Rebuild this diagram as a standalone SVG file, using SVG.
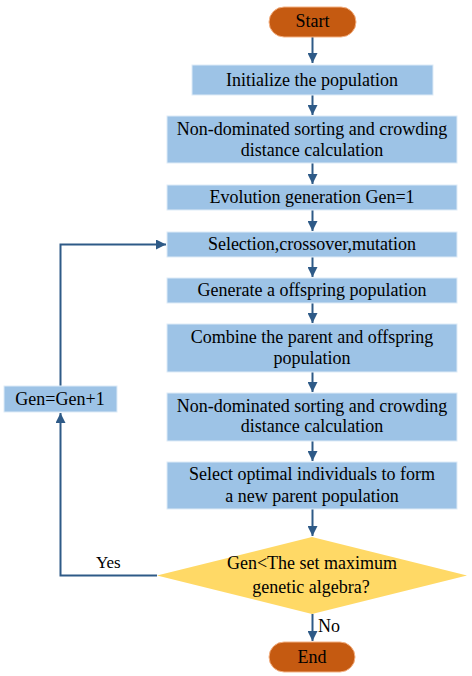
<svg xmlns="http://www.w3.org/2000/svg" width="472" height="676" viewBox="0 0 472 676">
<style>
.box{fill:#9DC3E6;stroke:#DEEBF7;stroke-width:1}
.term{fill:#C55A11;stroke:#F4B183;stroke-width:1}
.dia{fill:#FFD966}
.t{font-family:'Liberation Serif',serif;font-size:18px;fill:#000;text-anchor:middle}
.lbl{text-anchor:start}
.c{fill:none;stroke:#2E5A87;stroke-width:2}
</style>
<defs>
<marker id="ah" viewBox="0 0 10 10" refX="10" refY="5" markerWidth="5" markerHeight="5" orient="auto" markerUnits="strokeWidth">
<path d="M0,0 L10,5 L0,10 z" fill="#2E5A87"/>
</marker>
</defs>
<rect width="472" height="676" fill="#fff"/>
<g id="connectors">
<line class="c" x1="312.5" y1="37" x2="312.5" y2="63" marker-end="url(#ah)"/>
<line class="c" x1="312.5" y1="95" x2="312.5" y2="115" marker-end="url(#ah)"/>
<line class="c" x1="312.5" y1="163" x2="312.5" y2="184" marker-end="url(#ah)"/>
<line class="c" x1="312.5" y1="210" x2="312.5" y2="231" marker-end="url(#ah)"/>
<line class="c" x1="312.5" y1="257" x2="312.5" y2="277" marker-end="url(#ah)"/>
<line class="c" x1="312.5" y1="303" x2="312.5" y2="323" marker-end="url(#ah)"/>
<line class="c" x1="312.5" y1="372" x2="312.5" y2="392" marker-end="url(#ah)"/>
<line class="c" x1="312.5" y1="441" x2="312.5" y2="461" marker-end="url(#ah)"/>
<line class="c" x1="312.5" y1="509" x2="312.5" y2="536" marker-end="url(#ah)"/>
<line class="c" x1="312.5" y1="614" x2="312.5" y2="641" marker-end="url(#ah)"/>
<polyline class="c" points="157,575.5 60.5,575.5 60.5,413" marker-end="url(#ah)"/>
<polyline class="c" points="60.5,386 60.5,244.5 166,244.5" marker-end="url(#ah)"/>
<text class="t lbl" x="96" y="568" style="font-size:17px">Yes</text>
<text class="t lbl" x="318" y="632">No</text>
</g>
<g id="start">
<rect class="term" x="269" y="7" width="87" height="30" rx="15"/>
<text class="t" x="312.5" y="27">Start</text>
</g>
<g id="init">
<rect class="box" x="192" y="65" width="241" height="30"/>
<text class="t" x="312" y="85.5">Initialize the population</text>
</g>
<g id="sort1">
<rect class="box" x="167" y="116" width="290" height="47"/>
<text class="t" x="312" y="135">Non-dominated sorting and crowding</text>
<text class="t" x="312" y="156">distance calculation</text>
</g>
<g id="gen1">
<rect class="box" x="167" y="185" width="290" height="25"/>
<text class="t" x="312" y="203">Evolution generation Gen=1</text>
</g>
<g id="select">
<rect class="box" x="167" y="232" width="290" height="25"/>
<text class="t" x="312" y="249.5">Selection,crossover,mutation</text>
</g>
<g id="offspring">
<rect class="box" x="167" y="278" width="290" height="25"/>
<text class="t" x="312" y="296">Generate a offspring population</text>
</g>
<g id="combine">
<rect class="box" x="167" y="324" width="290" height="48"/>
<text class="t" x="312" y="343">Combine the parent and offspring</text>
<text class="t" x="312" y="364">population</text>
</g>
<g id="sort2">
<rect class="box" x="167" y="393" width="290" height="48"/>
<text class="t" x="312" y="411.5">Non-dominated sorting and crowding</text>
<text class="t" x="312" y="432">distance calculation</text>
</g>
<g id="selectopt">
<rect class="box" x="167" y="462" width="290" height="47"/>
<text class="t" x="312" y="480">Select optimal individuals to form</text>
<text class="t" x="312" y="501.5">a new parent population</text>
</g>
<g id="decision">
<polygon class="dia" points="312,537 467,575.5 312,614 157,575.5"/>
<text class="t" x="312" y="569">Gen&lt;The set maximum</text>
<text class="t" x="311" y="593">genetic algebra?</text>
</g>
<g id="end">
<rect class="term" x="269" y="642" width="86" height="30" rx="15"/>
<text class="t" x="312" y="663">End</text>
</g>
<g id="incr">
<rect class="box" x="4" y="386" width="113" height="26"/>
<text class="t" x="60" y="404.5">Gen=Gen+1</text>
</g>
</svg>
